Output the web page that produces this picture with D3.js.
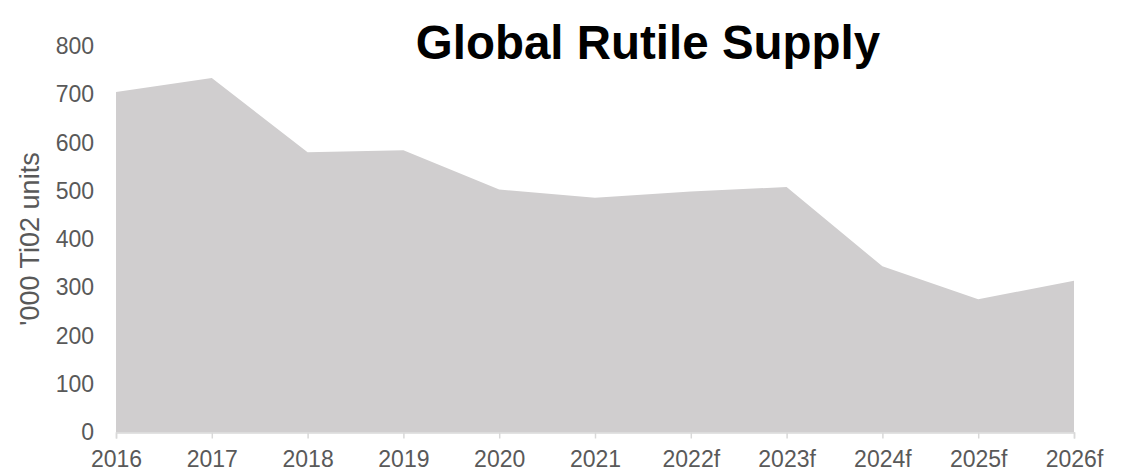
<!DOCTYPE html>
<html>
<head>
<meta charset="utf-8">
<script src="https://cdn.jsdelivr.net/npm/d3@7"></script>
<style>
  body { margin: 0; background: #fff; }
  svg { display: block; font-family: "Liberation Sans", Arial, sans-serif; }
</style>
</head>
<body>
<svg width="1128" height="471"></svg>
<script>
const years = ["2016","2017","2018","2019","2020","2021","2022f","2023f","2024f","2025f","2026f"];
const supply = [705, 734, 580, 584, 503, 486, 499, 508, 344, 276, 314];
const yTicks = [0, 100, 200, 300, 400, 500, 600, 700, 800];

const svg = d3.select("svg");

const x = d3.scalePoint()
  .domain(years)
  .range([116, 1074]);

const y = d3.scaleLinear()
  .domain([0, 800])
  .range([432.5, 46]);

const area = d3.area()
  .x((d, i) => x(years[i]))
  .y0(y(0))
  .y1(d => y(d));

svg.append("path")
  .datum(supply)
  .attr("fill", "#d0cecf")
  .attr("d", area);

// x axis
const xAxis = svg.append("g")
  .attr("transform", `translate(0,${y(0)})`)
  .call(d3.axisBottom(x).tickSize(6).tickPadding(12));
xAxis.select(".domain").attr("stroke", "#d9d9d9").attr("stroke-width", 1.5);
xAxis.selectAll(".tick line").attr("stroke", "#d9d9d9").attr("stroke-width", 1.5);
xAxis.selectAll(".tick text")
  .attr("fill", "#595959")
  .style("font-size", "23px")
  .style("font-family", "'Liberation Sans', Arial, sans-serif");

// y axis
const yAxis = svg.append("g")
  .attr("transform", "translate(116,0)")
  .call(d3.axisLeft(y).tickValues(yTicks).tickSize(0).tickPadding(22));
yAxis.select(".domain").remove();
yAxis.selectAll(".tick text")
  .attr("fill", "#595959")
  .style("font-size", "23px")
  .style("font-family", "'Liberation Sans', Arial, sans-serif");

// y title
svg.append("text")
  .attr("transform", "translate(39,239) rotate(-90)")
  .attr("text-anchor", "middle")
  .attr("fill", "#595959")
  .style("font-size", "27px")
  .text("'000 Ti02 units");

// title
svg.append("text")
  .attr("x", 648)
  .attr("y", 59)
  .attr("text-anchor", "middle")
  .attr("fill", "#000")
  .style("font-size", "47.5px")
  .style("font-weight", "bold")
  .text("Global Rutile Supply");
</script>
</body>
</html>
